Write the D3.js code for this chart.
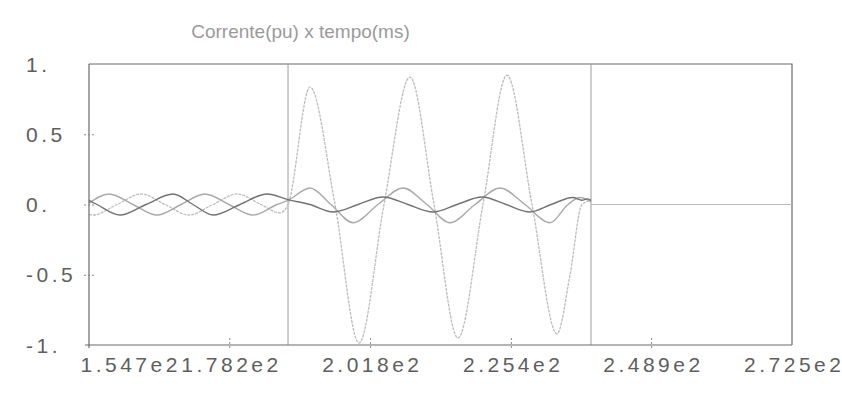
<!DOCTYPE html>
<html>
<head>
<meta charset="utf-8">
<script src="https://cdn.jsdelivr.net/npm/d3@7"></script>
<style>
  html, body { margin: 0; padding: 0; background: #fff; }
  svg { display: block; }
  text { font-family: "Liberation Sans", Arial, sans-serif; }
</style>
</head>
<body>
<svg id="chart" width="842" height="396"></svg>
<script>
// Phase currents (pu) versus time (ms): pre-fault, fault and post-clearing.
const titleText = "Corrente(pu) x tempo(ms)";

const xTickValues = [154.7, 178.2, 201.8, 225.4, 248.9, 272.5];
const xTickLabels = ["1.547e2", "1.782e2", "2.018e2", "2.254e2", "2.489e2", "2.725e2"];
const yTickValues = [1, 0.5, 0, -0.5, -1];
const yTickLabels = ["1.", "0.5", "0.", "-0.5", "-1."];

// Fault inception and clearing instants (ms)
const eventTimes = [188.05, 238.82];

// Faulted phase: small pre-fault current, large fault current
const phaseATime = [154.70, 155.37, 159.39, 163.41, 167.44, 171.46, 175.48, 179.50, 183.52, 186.71,
  188.05, 191.73, 195.92, 199.94, 204.13, 208.49, 212.51, 216.53, 220.72, 224.74,
  228.93, 233.12, 235.30, 237.31, 238.82];
const phaseAValue = [-0.07, -0.075, 0, 0.075, 0, -0.075, 0, 0.075, 0, -0.06,
  0, 0.836, 0, -0.986, 0, 0.907, 0, -0.95, 0, 0.92,
  0, -0.92, -0.5, 0, 0.03];

// Sound phase (darker trace)
const phaseBTime = [154.70, 156.04, 159.89, 164.25, 168.78, 172.13, 175.48, 180.00, 184.53,
  188.05, 191.73, 195.59, 199.78, 203.97, 208.15, 212.34, 216.37, 220.55, 224.58,
  228.60, 232.12, 235.80, 237.31, 238.15, 238.82];
const phaseBValue = [0.03, 0, -0.075, 0, 0.075, 0, -0.075, 0, 0.075,
  0.035, 0, -0.053, 0, 0.053, 0, -0.053, 0, 0.053, 0,
  -0.053, 0, 0.05, 0.03, 0.04, 0.03];

// Sound phase (lighter trace)
const phaseCTime = [154.70, 158.05, 162.07, 166.09, 170.12, 174.14, 178.16, 182.18, 186.20,
  188.05, 191.73, 195.25, 198.94, 203.13, 207.32, 211.34, 215.19, 219.38, 223.57,
  227.76, 231.95, 234.97, 236.98, 238.82];
const phaseCValue = [0.01, 0.075, 0, -0.075, 0, 0.075, 0, -0.075, 0,
  0.03, 0.117, 0, -0.13, 0, 0.117, 0, -0.13, 0, 0.117,
  0, -0.13, 0, 0.05, 0.02];

// After clearing: all currents are zero
const postTime = [238.82, 272.5];
const postValue = [0, 0];

const svg = d3.select("#chart");
const plotLeft = 89, plotRight = 792, plotTop = 64, plotBottom = 345;

const x = d3.scaleLinear().domain([154.7, 272.5]).range([plotLeft, plotRight]);
const y = d3.scaleLinear().domain([-1, 1]).range([plotBottom, plotTop]);

// Title
svg.append("text")
  .attr("x", 300.5).attr("y", 38)
  .attr("text-anchor", "middle")
  .attr("font-size", 19)
  .attr("fill", "#9a9a9a")
  .text(titleText);

// Frame (top and right edges)
svg.append("path")
  .attr("d", `M${plotLeft},${plotTop}H${plotRight}V${plotBottom}`)
  .attr("fill", "none").attr("stroke", "#6a6a6a").attr("stroke-width", 1.2);

// Event markers
svg.selectAll("line.event").data(eventTimes).enter().append("line")
  .attr("class", "event")
  .attr("x1", d => x(d)).attr("x2", d => x(d))
  .attr("y1", plotTop).attr("y2", plotBottom)
  .attr("stroke", "#9c9c9c").attr("stroke-width", 1);

// Traces
const line = d3.line().x(d => x(d[0])).y(d => y(d[1])).curve(d3.curveMonotoneX);
const zip = (t, v) => t.map((d, i) => [d, v[i]]);

const traces = [
  { data: zip(postTime, postValue), color: "#bdbdbd", width: 1.2 },
  { data: zip(phaseATime, phaseAValue), color: "#bcbcbc", width: 1.3, dash: "3,1" },
  { data: zip(phaseCTime, phaseCValue), color: "#a9a9a9", width: 1.4 },
  { data: zip(phaseBTime, phaseBValue), color: "#727272", width: 1.4 }
];
svg.selectAll("path.trace").data(traces).enter().append("path")
  .attr("class", "trace")
  .attr("d", d => line(d.data))
  .attr("fill", "none")
  .attr("stroke", d => d.color)
  .attr("stroke-width", d => d.width)
  .attr("stroke-dasharray", d => d.dash || null);

// X axis
const xAxis = d3.axisBottom(x)
  .tickValues(xTickValues)
  .tickFormat((d, i) => xTickLabels[i])
  .tickSizeOuter(0);
const gx = svg.append("g").attr("transform", `translate(0,${plotBottom})`).call(xAxis);
gx.select(".domain").attr("d", `M${plotLeft - 4},0H${plotRight}`)
  .attr("stroke", "#6a6a6a").attr("stroke-width", 1.2);
gx.selectAll(".tick line")
  .attr("y1", -7).attr("y2", 3)
  .attr("stroke", "#8a8a8a").attr("stroke-dasharray", "2,2")
  .attr("display", d => (d === xTickValues[0] || d === xTickValues[xTickValues.length - 1]) ? "none" : null);
gx.selectAll(".tick text")
  .attr("y", 27).attr("dy", null)
  .attr("font-size", 21)
  .attr("letter-spacing", "3.5px")
  .attr("fill", "#5e5e5e")
  .attr("dx", 1.75)
  .filter(d => d === xTickValues[0])
  .attr("text-anchor", "start")
  .attr("dx", 80 - plotLeft);

// Y axis
const yAxis = d3.axisLeft(y)
  .tickValues(yTickValues)
  .tickFormat((d, i) => yTickLabels[i])
  .tickSizeOuter(0);
const gy = svg.append("g").attr("transform", `translate(${plotLeft},0)`).call(yAxis);
gy.select(".domain").attr("d", `M0,${plotTop}V${plotBottom + 3}`)
  .attr("stroke", "#6a6a6a").attr("stroke-width", 1.2);
gy.selectAll(".tick line")
  .attr("x1", -5).attr("x2", 6)
  .attr("stroke", "#8a8a8a").attr("stroke-dasharray", "2,2")
  .attr("display", d => (Math.abs(d) === 1) ? "none" : null);
gy.selectAll(".tick text")
  .attr("text-anchor", "start")
  .attr("x", 26 - plotLeft)
  .attr("dy", "0.34em")
  .attr("font-size", 21)
  .attr("letter-spacing", "3.5px")
  .attr("fill", "#5e5e5e");

svg.selectAll(".domain").attr("fill", "none");
svg.selectAll(".tick text").attr("font-family", "\"Liberation Sans\", Arial, sans-serif");
</script>
</body>
</html>
